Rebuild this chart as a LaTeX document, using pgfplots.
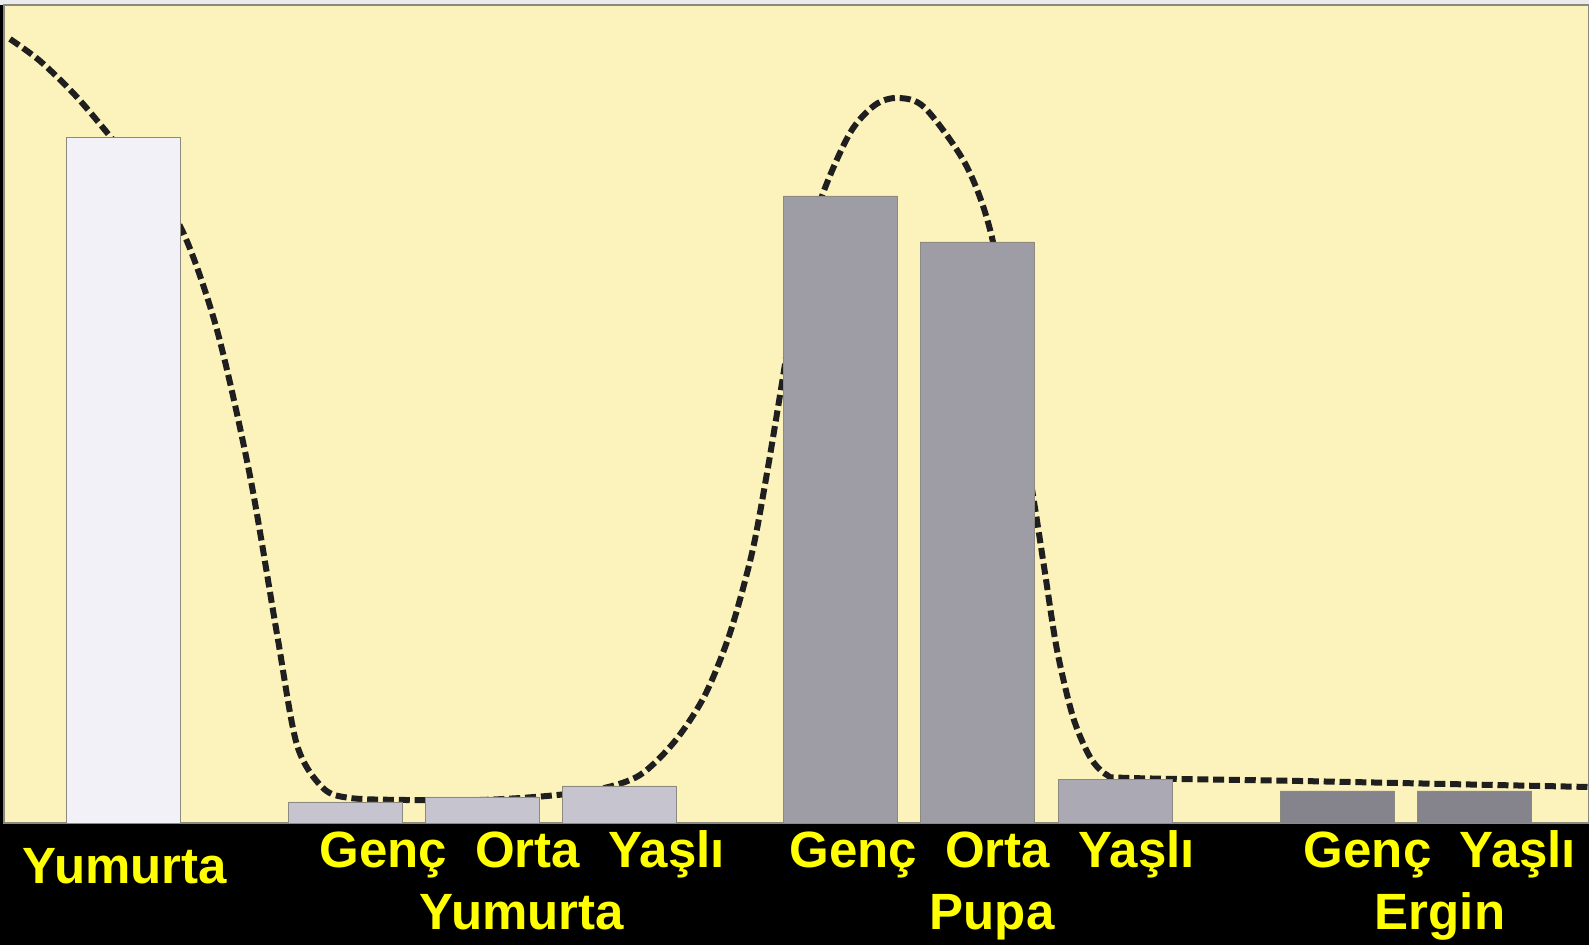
\documentclass[border=0pt]{standalone}
\usepackage{pgfplots}
\pgfplotsset{compat=1.18}
\usepackage{fontspec}
\setmainfont{Liberation Sans}

\definecolor{bgyellow}{HTML}{FBF2BC}
\definecolor{eggbar}{HTML}{F3F1F8}
\definecolor{larvabar}{HTML}{C6C4CF}
\definecolor{pupabar}{HTML}{9E9CA5}
\definecolor{pupaold}{HTML}{ABA9B3}
\definecolor{adultbar}{HTML}{85838C}
\definecolor{edge}{HTML}{8C8A80}
\definecolor{labelyellow}{HTML}{FFFF00}

\tikzset{stage/.style={font=\fontsize{25.5}{30}\selectfont\bfseries, text=labelyellow, anchor=base, inner sep=0pt}}

\begin{document}
\begin{tikzpicture}
% page background: black band, 1 px of the reference = 0.5pt
\fill[black] (0,0) rectangle (794.5pt,472.5pt);
\fill[black!8] (0,470pt) rectangle (794.5pt,472.5pt);
\begin{axis}[
    at={(2pt,61pt)}, anchor=south west,
    x=0.5pt, y=0.5pt,
    xmin=4, xmax=1589, ymin=0, ymax=818,
    axis background/.style={fill=bgyellow},
    axis line style={draw=edge, line width=0.8pt},
    xtick=\empty, ytick=\empty,
    clip=false,
]
% dashed trend curve (behind the bars)
\addplot[smooth, black!88, line width=3pt, dash pattern=on 5.5pt off 2.4pt] coordinates {
    (10,784) (40,762) (75,728) (109,688) (145,643) (182,593) (217,493) (250,347)
    (277,189) (297,78) (323,35) (350,25) (405,23) (480,23) (547,27)
    (600,34) (640,48) (675,82) (705,128) (730,190) (752,270) (767,350)
    (782,440) (800,550) (822,627) (850,690) (875,718) (898,725) (925,715)
    (967,656) (993,581) (1015,440) (1035,315) (1045,250) (1057,173)
    (1073,106) (1090,66) (1107,48) (1130,45) (1300,42) (1589,36)
};
% bars
\addplot[ybar, bar width=114, bar shift=0pt, fill=eggbar, draw=edge] coordinates {(123,686)};
\addplot[ybar, bar width=114, bar shift=0pt, fill=larvabar, draw=edge] coordinates {(345,21) (482,26) (619,37)};
\addplot[ybar, bar width=114, bar shift=0pt, fill=pupabar, draw=edge] coordinates {(840,627) (977,581)};
\addplot[ybar, bar width=114, bar shift=0pt, fill=pupaold, draw=edge] coordinates {(1115,44)};
\addplot[ybar, bar width=114, bar shift=0pt, fill=adultbar, draw=edge] coordinates {(1337,32) (1474,32)};
% stage labels
\node[stage] at (axis cs:125,-61) {Yumurta};
\node[stage] at (axis cs:522,-45) {Genç\ \ Orta\ \ Yaşlı};
\node[stage] at (axis cs:522,-107) {Yumurta};
\node[stage] at (axis cs:992,-45) {Genç\ \ Orta\ \ Yaşlı};
\node[stage] at (axis cs:992,-107) {Pupa};
\node[stage] at (axis cs:1440,-45) {Genç\ \ Yaşlı};
\node[stage] at (axis cs:1440,-107) {Ergin};
\end{axis}
\pgfresetboundingbox
\useasboundingbox (0,0) rectangle (794.5pt,472.5pt);
\end{tikzpicture}
\end{document}
